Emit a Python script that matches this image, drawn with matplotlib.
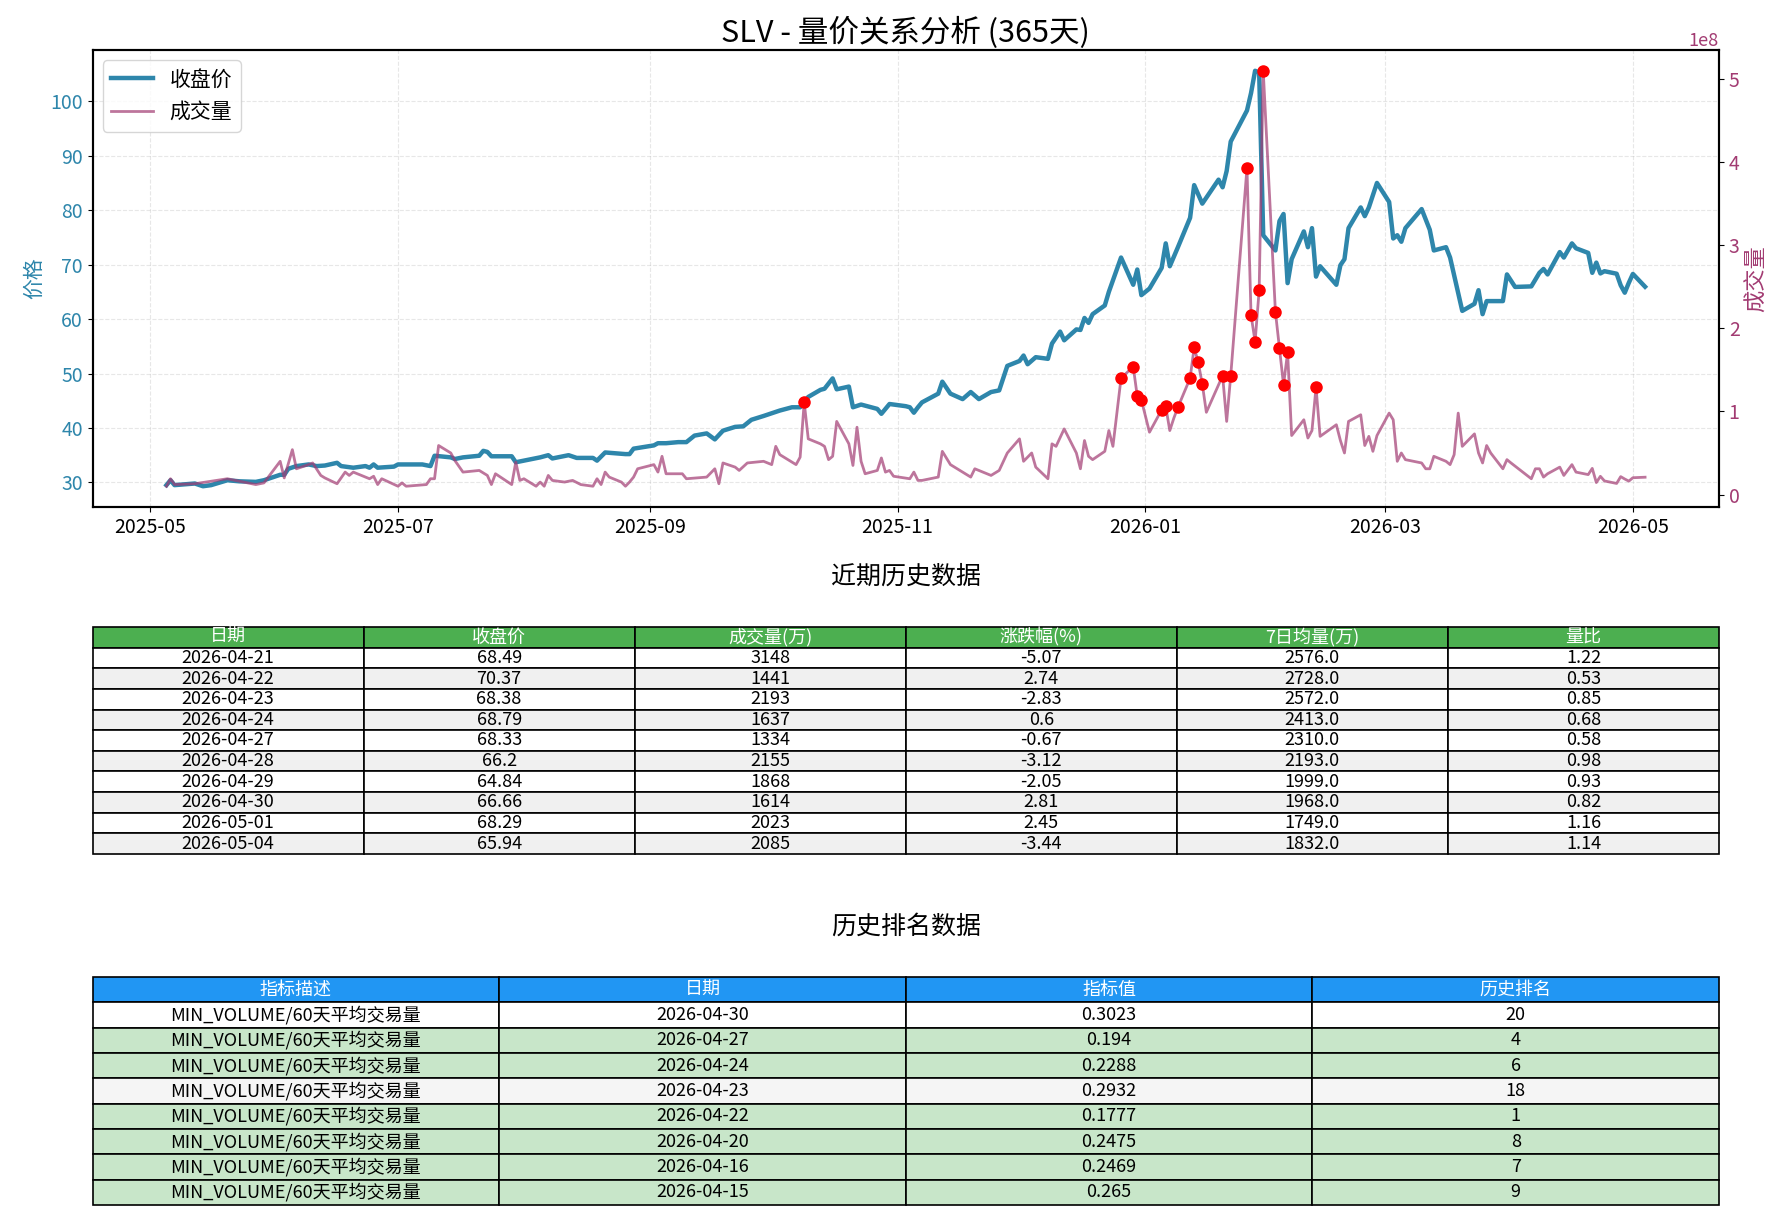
import matplotlib
matplotlib.use("Agg")
import matplotlib.pyplot as plt
import matplotlib.dates as mdates
import pandas as pd

plt.rcParams['font.family'] = ['Noto Sans CJK SC', 'DejaVu Sans']
plt.rcParams['axes.unicode_minus'] = False

# ---------------- data ----------------
price_dates = [
    "2025-05-05", "2025-05-06", "2025-05-07", "2025-05-12", "2025-05-14", "2025-05-16", "2025-05-20",
    "2025-05-23", "2025-05-27", "2025-05-29", "2025-06-02", "2025-06-03", "2025-06-04", "2025-06-06",
    "2025-06-09", "2025-06-11", "2025-06-13", "2025-06-16", "2025-06-17", "2025-06-20", "2025-06-23",
    "2025-06-24", "2025-06-25", "2025-06-26", "2025-06-30", "2025-07-01", "2025-07-07", "2025-07-09",
    "2025-07-10", "2025-07-14", "2025-07-15", "2025-07-17", "2025-07-21", "2025-07-22", "2025-07-23",
    "2025-07-24", "2025-07-29", "2025-07-30", "2025-08-01", "2025-08-05", "2025-08-07", "2025-08-08",
    "2025-08-12", "2025-08-14", "2025-08-18", "2025-08-19", "2025-08-21", "2025-08-26", "2025-08-27",
    "2025-08-28", "2025-09-02", "2025-09-03", "2025-09-05", "2025-09-08", "2025-09-10", "2025-09-12",
    "2025-09-15", "2025-09-17", "2025-09-19", "2025-09-22", "2025-09-24", "2025-09-26", "2025-09-29",
    "2025-10-01", "2025-10-03", "2025-10-06", "2025-10-08", "2025-10-09", "2025-10-10", "2025-10-13",
    "2025-10-14", "2025-10-16", "2025-10-17", "2025-10-20", "2025-10-21", "2025-10-23", "2025-10-27",
    "2025-10-28", "2025-10-30", "2025-11-03", "2025-11-04", "2025-11-05", "2025-11-06", "2025-11-07",
    "2025-11-11", "2025-11-12", "2025-11-14", "2025-11-17", "2025-11-19", "2025-11-21", "2025-11-24",
    "2025-11-26", "2025-11-28", "2025-12-01", "2025-12-02", "2025-12-03", "2025-12-05", "2025-12-08",
    "2025-12-09", "2025-12-11", "2025-12-12", "2025-12-15", "2025-12-16", "2025-12-17", "2025-12-18",
    "2025-12-19", "2025-12-22", "2025-12-23", "2025-12-26", "2025-12-29", "2025-12-30", "2025-12-31",
    "2026-01-02", "2026-01-05", "2026-01-06", "2026-01-07", "2026-01-09", "2026-01-12", "2026-01-13",
    "2026-01-15", "2026-01-19", "2026-01-20", "2026-01-21", "2026-01-22", "2026-01-26", "2026-01-27",
    "2026-01-28", "2026-01-29", "2026-01-30", "2026-02-02", "2026-02-03", "2026-02-04", "2026-02-05",
    "2026-02-06", "2026-02-09", "2026-02-10", "2026-02-11", "2026-02-12", "2026-02-13", "2026-02-17",
    "2026-02-18", "2026-02-19", "2026-02-20", "2026-02-23", "2026-02-24", "2026-02-25", "2026-02-27",
    "2026-03-02", "2026-03-03", "2026-03-04", "2026-03-05", "2026-03-06", "2026-03-10", "2026-03-12",
    "2026-03-13", "2026-03-16", "2026-03-17", "2026-03-20", "2026-03-23", "2026-03-24", "2026-03-25",
    "2026-03-26", "2026-03-30", "2026-03-31", "2026-04-02", "2026-04-06", "2026-04-08", "2026-04-09",
    "2026-04-10", "2026-04-13", "2026-04-14", "2026-04-16", "2026-04-17", "2026-04-20", "2026-04-21",
    "2026-04-22", "2026-04-23", "2026-04-24", "2026-04-27", "2026-04-28", "2026-04-29", "2026-04-30",
    "2026-05-01", "2026-05-04",
]
price_values = [
    29.5, 30.4, 29.5, 29.8, 29.3, 29.5, 30.4,
    30.2, 30.1, 30.4, 31.4, 31.4, 32.5, 33.0,
    33.3, 33.0, 33.1, 33.6, 33.0, 32.7, 33.0,
    32.7, 33.3, 32.7, 32.9, 33.3, 33.3, 33.0,
    34.9, 34.6, 34.3, 34.6, 34.9, 35.8, 35.6,
    34.8, 34.8, 33.7, 34.0, 34.6, 35.0, 34.4,
    35.0, 34.5, 34.5, 34.0, 35.5, 35.2, 35.2,
    36.2, 36.8, 37.2, 37.2, 37.4, 37.4, 38.6,
    39.0, 37.9, 39.5, 40.2, 40.3, 41.5, 42.2,
    42.7, 43.2, 43.8, 43.8, 44.7, 45.7, 47.0,
    47.2, 49.1, 47.1, 47.6, 43.8, 44.3, 43.5,
    42.6, 44.4, 44.0, 43.8, 42.8, 43.8, 44.7,
    46.3, 48.5, 46.3, 45.3, 46.6, 45.3, 46.6,
    46.9, 51.4, 52.3, 53.3, 51.7, 53.0, 52.7,
    55.5, 57.7, 56.1, 58.1, 58.0, 60.2, 59.3,
    60.9, 62.5, 65.0, 71.3, 66.3, 69.1, 64.4,
    65.6, 69.4, 73.9, 69.7, 73.2, 78.6, 84.6,
    81.2, 85.6, 84.2, 87.2, 92.6, 98.3, 101.5,
    105.6, 105.3, 75.4, 72.6, 78.0, 79.3, 66.6,
    71.0, 76.1, 73.2, 76.7, 67.8, 69.7, 66.3,
    69.9, 71.0, 76.7, 80.5, 78.9, 80.5, 85.0,
    81.5, 74.8, 75.4, 74.2, 76.7, 80.2, 76.4,
    72.6, 73.2, 71.3, 61.5, 62.8, 65.3, 60.9,
    63.3, 63.3, 68.2, 65.9, 66.0, 68.5, 69.2,
    68.2, 72.3, 71.3, 73.9, 73.0, 72.15, 68.49,
    70.37, 68.38, 68.79, 68.33, 66.2, 64.84, 66.66,
    68.29, 65.94,
]

volume_dates = [
    "2025-05-05", "2025-05-06", "2025-05-07", "2025-05-12", "2025-05-20", "2025-05-27", "2025-05-29",
    "2025-06-02", "2025-06-03", "2025-06-05", "2025-06-06", "2025-06-09", "2025-06-10", "2025-06-12",
    "2025-06-13", "2025-06-16", "2025-06-18", "2025-06-19", "2025-06-20", "2025-06-24", "2025-06-25",
    "2025-06-26", "2025-06-27", "2025-07-01", "2025-07-02", "2025-07-03", "2025-07-08", "2025-07-09",
    "2025-07-10", "2025-07-11", "2025-07-14", "2025-07-15", "2025-07-17", "2025-07-21", "2025-07-23",
    "2025-07-24", "2025-07-25", "2025-07-29", "2025-07-30", "2025-07-31", "2025-08-01", "2025-08-04",
    "2025-08-05", "2025-08-06", "2025-08-07", "2025-08-08", "2025-08-11", "2025-08-13", "2025-08-15",
    "2025-08-18", "2025-08-19", "2025-08-20", "2025-08-21", "2025-08-22", "2025-08-25", "2025-08-26",
    "2025-08-27", "2025-08-28", "2025-08-29", "2025-09-02", "2025-09-03", "2025-09-04", "2025-09-05",
    "2025-09-09", "2025-09-10", "2025-09-15", "2025-09-17", "2025-09-18", "2025-09-19", "2025-09-22",
    "2025-09-23", "2025-09-25", "2025-09-29", "2025-10-01", "2025-10-02", "2025-10-03", "2025-10-07",
    "2025-10-08", "2025-10-09", "2025-10-10", "2025-10-13", "2025-10-14", "2025-10-15", "2025-10-16",
    "2025-10-17", "2025-10-20", "2025-10-21", "2025-10-22", "2025-10-23", "2025-10-24", "2025-10-27",
    "2025-10-28", "2025-10-29", "2025-10-30", "2025-10-31", "2025-11-04", "2025-11-05", "2025-11-06",
    "2025-11-07", "2025-11-11", "2025-11-12", "2025-11-14", "2025-11-17", "2025-11-19", "2025-11-20",
    "2025-11-24", "2025-11-26", "2025-11-28", "2025-12-01", "2025-12-02", "2025-12-04", "2025-12-05",
    "2025-12-08", "2025-12-09", "2025-12-10", "2025-12-12", "2025-12-15", "2025-12-16", "2025-12-17",
    "2025-12-18", "2025-12-19", "2025-12-22", "2025-12-23", "2025-12-24", "2025-12-26", "2025-12-29",
    "2025-12-30", "2025-12-31", "2026-01-02", "2026-01-05", "2026-01-06", "2026-01-07", "2026-01-08",
    "2026-01-09", "2026-01-12", "2026-01-13", "2026-01-14", "2026-01-15", "2026-01-16", "2026-01-20",
    "2026-01-21", "2026-01-22", "2026-01-26", "2026-01-27", "2026-01-28", "2026-01-29", "2026-01-30",
    "2026-02-02", "2026-02-03", "2026-02-04", "2026-02-05", "2026-02-06", "2026-02-09", "2026-02-10",
    "2026-02-11", "2026-02-12", "2026-02-13", "2026-02-17", "2026-02-18", "2026-02-19", "2026-02-20",
    "2026-02-23", "2026-02-24", "2026-02-25", "2026-02-26", "2026-02-27", "2026-03-02", "2026-03-03",
    "2026-03-04", "2026-03-05", "2026-03-06", "2026-03-10", "2026-03-11", "2026-03-12", "2026-03-13",
    "2026-03-16", "2026-03-17", "2026-03-18", "2026-03-19", "2026-03-20", "2026-03-23", "2026-03-24",
    "2026-03-25", "2026-03-26", "2026-03-27", "2026-03-30", "2026-03-31", "2026-04-01", "2026-04-06",
    "2026-04-07", "2026-04-08", "2026-04-09", "2026-04-10", "2026-04-13", "2026-04-14", "2026-04-16",
    "2026-04-17", "2026-04-20", "2026-04-21", "2026-04-22", "2026-04-23", "2026-04-24", "2026-04-27",
    "2026-04-28", "2026-04-29", "2026-04-30", "2026-05-01", "2026-05-04",
]
volume_values_1e8 = [
    0.10, 0.19, 0.12, 0.13, 0.19, 0.12, 0.14,
    0.40, 0.20, 0.54, 0.31, 0.36, 0.38, 0.23,
    0.20, 0.13, 0.27, 0.23, 0.27, 0.19, 0.22,
    0.12, 0.19, 0.10, 0.14, 0.10, 0.12, 0.19,
    0.19, 0.59, 0.50, 0.41, 0.27, 0.29, 0.23,
    0.12, 0.25, 0.12, 0.39, 0.17, 0.19, 0.10,
    0.15, 0.10, 0.23, 0.17, 0.15, 0.17, 0.12,
    0.10, 0.19, 0.12, 0.27, 0.21, 0.15, 0.10,
    0.15, 0.21, 0.31, 0.36, 0.27, 0.46, 0.25,
    0.25, 0.19, 0.21, 0.31, 0.13, 0.38, 0.33,
    0.29, 0.38, 0.40, 0.36, 0.58, 0.48, 0.36,
    0.45, 1.11, 0.67, 0.61, 0.58, 0.42, 0.46,
    0.88, 0.61, 0.35, 0.81, 0.40, 0.25, 0.29,
    0.44, 0.27, 0.29, 0.22, 0.19, 0.27, 0.17,
    0.17, 0.21, 0.52, 0.36, 0.27, 0.21, 0.31,
    0.23, 0.29, 0.50, 0.67, 0.40, 0.50, 0.33,
    0.19, 0.61, 0.58, 0.79, 0.50, 0.31, 0.65,
    0.46, 0.42, 0.52, 0.77, 0.58, 1.40, 1.54,
    1.18, 1.14, 0.75, 1.02, 1.06, 0.77, 0.92,
    1.05, 1.40, 1.77, 1.59, 1.33, 0.99, 1.43,
    0.88, 1.43, 3.93, 2.16, 1.84, 2.46, 5.10,
    2.20, 1.76, 1.32, 1.71, 0.71, 0.90, 0.68,
    0.77, 1.29, 0.70, 0.84, 0.65, 0.50, 0.88,
    0.96, 0.59, 0.70, 0.52, 0.71, 0.98, 0.90,
    0.40, 0.50, 0.42, 0.38, 0.31, 0.31, 0.46,
    0.40, 0.36, 0.48, 0.98, 0.58, 0.73, 0.50,
    0.38, 0.59, 0.50, 0.31, 0.42, 0.38, 0.19,
    0.31, 0.31, 0.21, 0.25, 0.33, 0.23, 0.36,
    0.27, 0.24, 0.3148, 0.1441, 0.2193, 0.1637, 0.1334,
    0.2155, 0.1868, 0.1614, 0.2023, 0.2085,
]

# days marked with red dots (abnormal volume)
spike_dates = [
    "2025-10-09", "2025-12-26", "2025-12-29", "2025-12-30", "2025-12-31", "2026-01-05", "2026-01-06",
    "2026-01-09", "2026-01-12", "2026-01-13", "2026-01-14", "2026-01-15", "2026-01-20", "2026-01-22",
    "2026-01-26", "2026-01-27", "2026-01-28", "2026-01-29", "2026-01-30", "2026-02-02", "2026-02-03",
    "2026-02-04", "2026-02-05", "2026-02-12",
]

# recent history table
recent_cols = ["日期", "收盘价", "成交量(万)", "涨跌幅(%)", "7日均量(万)", "量比"]
recent_dates = ["2026-04-21", "2026-04-22", "2026-04-23", "2026-04-24", "2026-04-27",
                "2026-04-28", "2026-04-29", "2026-04-30", "2026-05-01", "2026-05-04"]
recent_close = ["68.49", "70.37", "68.38", "68.79", "68.33", "66.2", "64.84", "66.66", "68.29", "65.94"]
recent_volume = ["3148", "1441", "2193", "1637", "1334", "2155", "1868", "1614", "2023", "2085"]
recent_change = ["-5.07", "2.74", "-2.83", "0.6", "-0.67", "-3.12", "-2.05", "2.81", "2.45", "-3.44"]
recent_ma7 = ["2576.0", "2728.0", "2572.0", "2413.0", "2310.0", "2193.0", "1999.0", "1968.0", "1749.0", "1832.0"]
recent_ratio = ["1.22", "0.53", "0.85", "0.68", "0.58", "0.98", "0.93", "0.82", "1.16", "1.14"]

# ranking table
rank_cols = ["指标描述", "日期", "指标值", "历史排名"]
rank_desc = ["MIN_VOLUME/60天平均交易量"] * 8
rank_dates = ["2026-04-30", "2026-04-27", "2026-04-24", "2026-04-23",
              "2026-04-22", "2026-04-20", "2026-04-16", "2026-04-15"]
rank_values = ["0.3023", "0.194", "0.2288", "0.2932", "0.1777", "0.2475", "0.2469", "0.265"]
rank_ranks = [20, 4, 6, 18, 1, 8, 7, 9]

# ---------------- figure ----------------
W, H = 1791, 1220
fig = plt.figure(figsize=(W / 100, H / 100), dpi=100)

def box(x0, y0, x1, y1):
    return [x0 / W, 1 - y1 / H, (x1 - x0) / W, (y1 - y0) / H]

PRICE_C = "#2E86AB"
VOL_C = "#A23B72"

ax = fig.add_axes(box(92.5, 50, 1719, 507))
pdates = pd.to_datetime(price_dates)
vdates = pd.to_datetime(volume_dates)
vol = pd.Series([v * 1e8 for v in volume_values_1e8], index=vdates)

l1, = ax.plot(pdates, price_values, color=PRICE_C, lw=3.2, label="收盘价")
ax.set_ylabel("价格", color=PRICE_C, fontsize=15)
ax.tick_params(axis="y", labelcolor=PRICE_C, labelsize=14)
ax.tick_params(axis="x", labelsize=14)
ax.grid(True, linestyle="--", alpha=0.3)

ax2 = ax.twinx()
l2, = ax2.plot(vdates, vol.values, color=VOL_C, lw=2, alpha=0.7, label="成交量")
sd = pd.to_datetime(spike_dates)
ax2.plot(sd, vol.loc[sd].values, "o", color="red", markersize=8, zorder=5)
ax2.set_ylabel("成交量", color=VOL_C, fontsize=16)
ax2.tick_params(axis="y", labelcolor=VOL_C, labelsize=14)
ax2.yaxis.get_offset_text().set_color(VOL_C)
ax2.yaxis.get_offset_text().set_fontsize(13)

ax.xaxis.set_major_locator(mdates.MonthLocator(bymonth=[1, 3, 5, 7, 9, 11]))
ax.xaxis.set_major_formatter(mdates.DateFormatter("%Y-%m"))
for a in (ax, ax2):
    for s in a.spines.values():
        s.set_linewidth(1.5)

ax.legend([l1, l2], ["收盘价", "成交量"], loc="upper left", fontsize=15)
ax.set_title("SLV - 量价关系分析 (365天)", fontsize=22, pad=6)

# ---------------- table 1 ----------------
tax1 = fig.add_axes(box(92.5, 627, 1719, 854))
tax1.axis("off")
cells1 = [list(r) for r in zip(recent_dates, recent_close, recent_volume,
                                recent_change, recent_ma7, recent_ratio)]
t1 = tax1.table(cellText=cells1, colLabels=recent_cols, cellLoc="center", bbox=[0, 0, 1, 1])
t1.auto_set_font_size(False)
t1.set_fontsize(13)
for (r, c), cell in t1.get_celld().items():
    cell.set_edgecolor("black")
    cell.set_linewidth(1.2)
    if r == 0:
        cell.set_facecolor("#4CAF50")
        cell.get_text().set_color("white")
    else:
        cell.set_facecolor("white" if (r - 1) % 2 == 0 else "#f0f0f0")
fig.text(0.5 * (92.5 + 1719) / W, 1 - 577 / H, "近期历史数据", ha="center", va="center", fontsize=18)

# ---------------- table 2 ----------------
tax2 = fig.add_axes(box(92.5, 977, 1719, 1205))
tax2.axis("off")
cells2 = [[d, dt, v, str(rk)] for d, dt, v, rk in zip(rank_desc, rank_dates, rank_values, rank_ranks)]
t2 = tax2.table(cellText=cells2, colLabels=rank_cols, cellLoc="center", bbox=[0, 0, 1, 1])
t2.auto_set_font_size(False)
t2.set_fontsize(13)
for (r, c), cell in t2.get_celld().items():
    cell.set_edgecolor("black")
    cell.set_linewidth(1.2)
    if r == 0:
        cell.set_facecolor("#2196F3")
        cell.get_text().set_color("white")
    else:
        if rank_ranks[r - 1] <= 10:
            cell.set_facecolor("#C8E6C9")
        else:
            cell.set_facecolor("white" if (r - 1) % 2 == 0 else "#f5f5f5")
fig.text(0.5 * (92.5 + 1719) / W, 1 - 927 / H, "历史排名数据", ha="center", va="center", fontsize=18)

fig.savefig("out.png", dpi=100)
